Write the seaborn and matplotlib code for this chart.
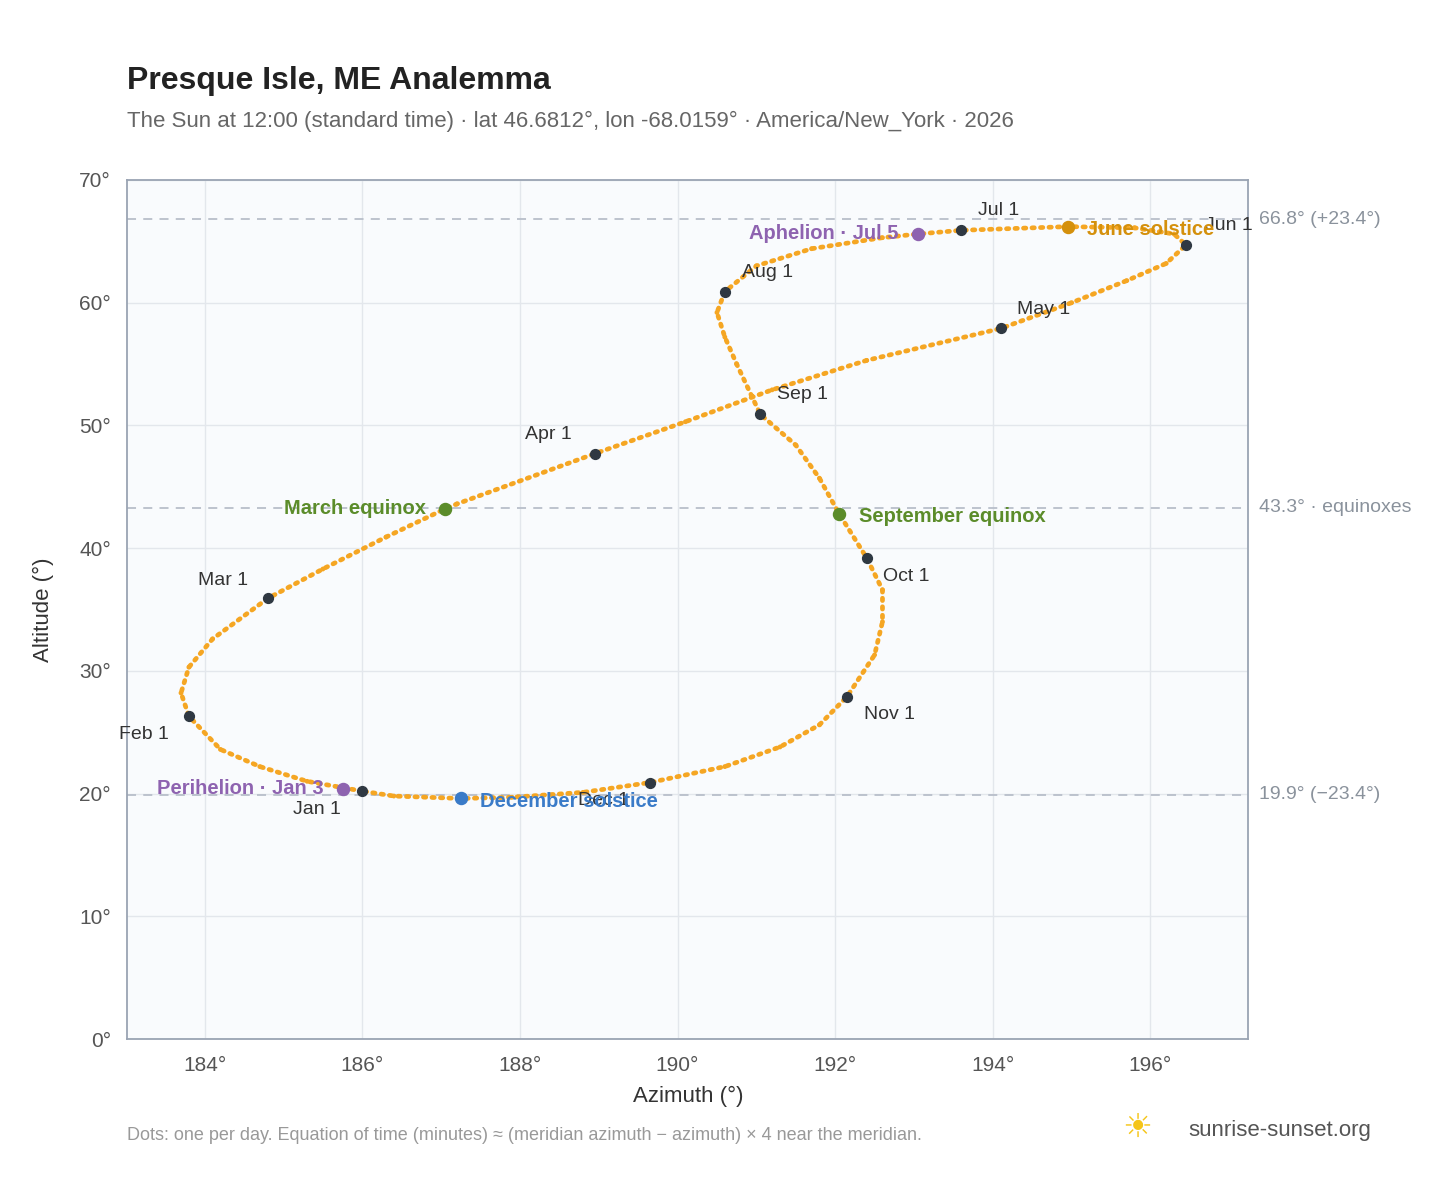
import matplotlib
matplotlib.use("Agg")
import matplotlib.pyplot as plt
import seaborn as sns
import pandas as pd

dates = ["Jan 1","Jan 8","Jan 15","Jan 22","Feb 1","Feb 8","Feb 15","Feb 22","Mar 1","Mar 8","Mar 15","Mar 20","Mar 22",
         "Apr 1","Apr 8","Apr 15","Apr 22","May 1","May 8","May 15","May 22","Jun 1","Jun 8","Jun 15","Jun 21",
         "Jul 1","Jul 5","Jul 8","Jul 15","Jul 22","Aug 1","Aug 8","Aug 15","Aug 22","Sep 1","Sep 8","Sep 15","Sep 22",
         "Oct 1","Oct 8","Oct 15","Oct 22","Nov 1","Nov 8","Nov 15","Nov 22","Dec 1","Dec 8","Dec 15","Dec 21","Dec 28","Jan 1b"]
azimuth = [186.0,185.3,184.7,184.2,183.8,183.7,183.8,184.1,184.8,185.5,186.3,187.05,187.2,
           188.95,190.1,191.2,192.4,194.1,195.0,195.7,196.2,196.45,196.3,195.8,194.95,
           193.6,193.05,192.6,191.7,191.0,190.6,190.5,190.6,190.75,191.05,191.5,191.8,192.05,
           192.4,192.6,192.6,192.5,192.15,191.8,191.3,190.6,189.65,188.8,187.9,187.25,186.4,186.0]
altitude = [20.2,21.0,22.2,23.6,26.3,28.2,30.3,32.6,35.9,38.3,40.9,43.2,43.6,
            47.7,50.3,52.9,55.3,57.9,60.0,61.8,63.2,64.7,65.6,66.1,66.2,
            65.9,65.6,65.3,64.4,63.0,60.9,59.2,57.2,55.0,50.9,48.4,45.7,42.8,
            39.2,36.6,34.0,31.3,27.9,25.6,23.8,22.2,20.9,20.1,19.7,19.6,19.8,20.2]

month_labels = ["Jan 1","Feb 1","Mar 1","Apr 1","May 1","Jun 1","Jul 1","Aug 1","Sep 1","Oct 1","Nov 1","Dec 1"]
month_offsets = [(-50,-13),(-50,-13),(-50,13),(-50,14),(12,14),(14,14),(12,14),(12,14),(12,14),(12,-13),(12,-13),(-52,-13)]

events = ["Perihelion · Jan 3","March equinox","June solstice","Aphelion · Jul 5","September equinox","December solstice"]
event_pts = [(185.75,20.4),(187.05,43.2),(194.95,66.2),(193.05,65.6),(192.05,42.8),(187.25,19.6)]
event_colors = ["#8e63b0","#5b8c2a","#d4900c","#8e63b0","#5b8c2a","#3a7bc8"]
event_side = ["left","left","right","left","right","right"]

ref_lines = [66.8, 43.3, 19.9]
ref_labels = ["66.8° (+23.4°)","43.3° · equinoxes","19.9° (−23.4°)"]

sns.set_theme(style="whitegrid")
plt.rcParams['font.family'] = ['Liberation Sans', 'DejaVu Sans']
fig = plt.figure(figsize=(14.48, 11.88), dpi=100)
ax = fig.add_axes([0.088, 0.1254, 0.774, 0.7231])
ax.set_facecolor("#f9fbfd")
df = pd.DataFrame({"az": azimuth, "alt": altitude})
ax.plot(df.az, df.alt, color="#f5a623", lw=3.4, ls=(0, (0.5, 1.3)), dash_capstyle="round")
sns.scatterplot(data=df, x="az", y="alt", ax=ax, color="#f5a623", s=12, edgecolor="none", zorder=3)

for y, lab in zip(ref_lines, ref_labels):
    ax.axhline(y, color="#b8bfca", ls=(0, (5, 4)), lw=1.3, zorder=1)
    ax.text(1.01, y, lab, transform=ax.get_yaxis_transform(), va="center", fontsize=14, color="#8a929c")

for lab, off in zip(month_labels, month_offsets):
    i = dates.index(lab)
    ax.scatter(azimuth[i], altitude[i], s=50, color="#2f3842", zorder=5)
    ax.annotate(lab, (azimuth[i], altitude[i]), xytext=off, textcoords="offset points", fontsize=14, color="#333", va="center")

for lab, (x, y), c, side in zip(events, event_pts, event_colors, event_side):
    ax.scatter(x, y, s=75, color=c, zorder=6)
    if side == "left":
        ax.annotate(lab, (x, y), xytext=(-14, 0), textcoords="offset points", ha="right", va="center", fontsize=14.5, color=c, fontweight="bold")
    else:
        ax.annotate(lab, (x, y), xytext=(14, -2), textcoords="offset points", ha="left", va="center", fontsize=14.5, color=c, fontweight="bold")

ax.set_xlim(183.02, 197.24)
ax.set_ylim(0, 70)
ax.set_xticks([184,186,188,190,192,194,196])
ax.set_xticklabels([f"{t}°" for t in [184,186,188,190,192,194,196]])
ax.set_yticks(range(0, 71, 10))
ax.set_yticklabels([f"{t}°" for t in range(0, 71, 10)])
ax.tick_params(labelsize=15, colors="#555", pad=6)
ax.set_xlabel("Azimuth (°)", fontsize=16, color="#333", labelpad=8)
ax.set_ylabel("Altitude (°)", fontsize=16, color="#333", labelpad=18)
ax.grid(color="#e3e7ec", lw=1)
for s in ax.spines.values():
    s.set_color("#9aa4b3"); s.set_linewidth(1.3)

fig.text(0.088, 0.925, "Presque Isle, ME Analemma", fontsize=23, fontweight="bold", color="#222")
fig.text(0.088, 0.893, "The Sun at 12:00 (standard time) · lat 46.6812°, lon -68.0159° · America/New_York · 2026", fontsize=16, color="#666")
fig.text(0.088, 0.04, "Dots: one per day. Equation of time (minutes) ≈ (meridian azimuth − azimuth) × 4 near the meridian.", fontsize=13, color="#999")
fig.text(0.821, 0.044, "sunrise-sunset.org", fontsize=16, color="#555")
fig.text(0.775, 0.042, "☀", fontsize=24, color="#f5c518")
fig.savefig("out.png", dpi=100)
